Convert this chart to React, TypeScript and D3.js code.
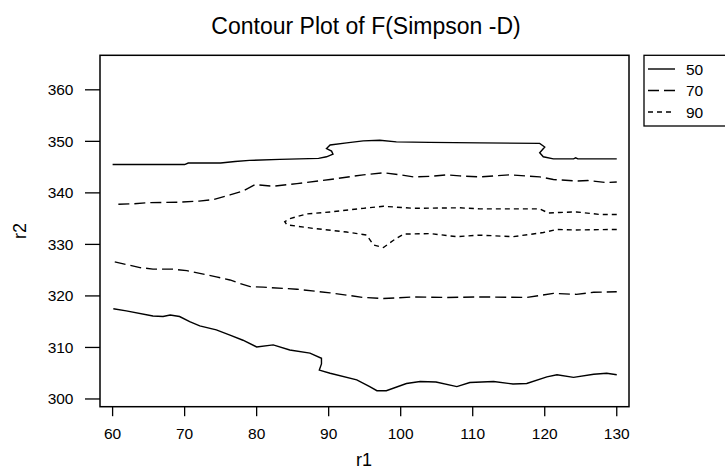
import React from "react";
import * as d3 from "d3";

const xTicks = [60, 70, 80, 90, 100, 110, 120, 130];
const yTicks = [300, 310, 320, 330, 340, 350, 360];
const legendLevels = ["50", "70", "90"];

const c50Upper: [number, number][] = [
  [60, 345.5], [70, 345.5], [70.5, 345.8], [75, 345.8], [77, 346.1], [79, 346.3],
  [83.2, 346.5], [88.6, 346.7], [89.7, 347.0], [90.6, 347.5], [90.4, 348.1], [89.7, 348.6],
  [90.2, 349.3], [92.5, 349.7], [94.8, 350.1], [97.1, 350.2], [99.4, 349.9], [104, 349.8],
  [111, 349.7], [119.3, 349.6], [120.0, 348.9], [119.3, 347.8], [119.8, 347.0], [121.2, 346.6],
  [124, 346.6], [124.3, 346.8], [124.6, 346.6], [130, 346.6],
];

const c70Upper: [number, number][] = [
  [60.8, 337.8], [63, 337.9], [65, 338.1], [69.3, 338.2], [72, 338.4], [74, 338.7],
  [76.3, 339.6], [78, 340.3], [79.8, 341.6], [82.3, 341.3], [85.6, 341.8], [90.2, 342.6],
  [94.8, 343.5], [97.6, 343.9], [100, 343.5], [101.8, 343.1], [104, 343.2], [106.4, 343.5],
  [108.2, 343.3], [111, 343.1], [115.2, 343.5], [119.3, 343.1], [121.2, 342.6], [124.4, 342.3],
  [126, 342.4], [128.6, 342.0], [130, 342.1],
];

const c90: [number, number][] = [
  [130, 335.8], [127.7, 335.8], [124.4, 336.3], [122, 336.2], [120.5, 336.1], [119.3, 336.9],
  [111, 336.9], [108.2, 337.1], [101.8, 337.0], [97.6, 337.4], [94.8, 337.0], [90.2, 336.3],
  [86.9, 335.9], [84.6, 335.0], [83.9, 334.4], [84.2, 333.8], [87.9, 333.1], [92.5, 332.4],
  [95.3, 331.8], [96.2, 329.9], [97.6, 329.4], [99, 330.8], [100.4, 332.0], [104.1, 332.1],
  [107.8, 331.5], [111, 331.8], [115.6, 331.5], [119.8, 332.3], [121.7, 332.9], [124, 332.8],
  [130, 332.9],
];

const c70Lower: [number, number][] = [
  [60.3, 326.6], [63.8, 325.5], [65.6, 325.2], [68.4, 325.2], [70.3, 324.9], [74.4, 323.7],
  [76.3, 323.1], [77.5, 322.5], [79.1, 321.8], [80.9, 321.7], [85.6, 321.3], [90.2, 320.6],
  [94.8, 319.7], [97.6, 319.5], [101.8, 319.8], [106.4, 319.7], [111, 319.8], [117.5, 319.7],
  [121.2, 320.5], [124.4, 320.3], [126.8, 320.7], [130, 320.8],
];

const c50Lower: [number, number][] = [
  [60.1, 317.5], [61.9, 317.1], [65.6, 316.1], [67, 316.0], [68, 316.3], [69.3, 316.0],
  [70.7, 315.0], [72.1, 314.2], [74.4, 313.4], [76.3, 312.4], [78.1, 311.4], [80, 310.1],
  [82.3, 310.5], [84.6, 309.5], [87.4, 308.9], [89, 307.9], [89.0, 306.8], [88.7, 305.6],
  [90.2, 305.0], [93.9, 303.7], [95.7, 302.4], [96.7, 301.6], [98, 301.6], [100.8, 303.0],
  [102.7, 303.4], [104.9, 303.3], [107.8, 302.4], [109.6, 303.2], [112.9, 303.4], [115.6, 302.9],
  [117.5, 303.0], [120.3, 304.3], [121.7, 304.7], [124, 304.2], [126.8, 304.8], [128.6, 305.0],
  [130, 304.7],
];

const FONT = "Liberation Sans, Arial, Helvetica, sans-serif";
const dashFor: Record<string, string | undefined> = { "50": undefined, "70": "11,5", "90": "5,4" };

export default function App() {
  const left = 100, right = 629, top = 55.3, bottom = 406.7;
  const x = d3.scaleLinear().domain([58.25, 131.7]).range([left, right]);
  const y = d3.scaleLinear().domain([298.5, 366.7]).range([bottom, top]);
  const line = d3.line<[number, number]>().x((d) => x(d[0])).y((d) => y(d[1]));

  const contours: { data: [number, number][]; level: string }[] = [
    { data: c50Upper, level: "50" },
    { data: c70Upper, level: "70" },
    { data: c90, level: "90" },
    { data: c70Lower, level: "70" },
    { data: c50Lower, level: "50" },
  ];

  return (
    <svg width={725} height={471} style={{ position: "absolute", left: 0, top: 0, background: "#fff" }}>
      <rect x={0} y={0} width={725} height={471} fill="#fff" />
      <text x={366} y={34} textAnchor="middle" fontFamily={FONT} fontSize={23} fill="#000">
        Contour Plot of F(Simpson -D)
      </text>
      {contours.map((c, i) => (
        <path key={i} d={line(c.data) || ""} fill="none" stroke="#000" strokeWidth={1.4}
          strokeDasharray={dashFor[c.level]} />
      ))}
      <rect x={left} y={top} width={right - left} height={bottom - top} fill="none" stroke="#000" strokeWidth={1.5} />
      {xTicks.map((t) => (
        <g key={t}>
          <line x1={x(t)} x2={x(t)} y1={bottom} y2={bottom + 9.5} stroke="#000" strokeWidth={1.3} />
          <text x={x(t)} y={439} textAnchor="middle" fontFamily={FONT} fontSize={15.5} fill="#000">{t}</text>
        </g>
      ))}
      {yTicks.map((t) => (
        <g key={t}>
          <line x1={left - 15} x2={left} y1={y(t)} y2={y(t)} stroke="#000" strokeWidth={1.3} />
          <text x={73.5} y={y(t) + 5.5} textAnchor="end" fontFamily={FONT} fontSize={15.5} fill="#000">{t}</text>
        </g>
      ))}
      <text x={364} y={466} textAnchor="middle" fontFamily={FONT} fontSize={18} fill="#000">r1</text>
      <text transform={`translate(26,${(top + bottom) / 2}) rotate(-90)`} textAnchor="middle" fontFamily={FONT} fontSize={18} fill="#000">r2</text>
      <rect x={644} y={55.3} width={90} height={70.7} fill="#fff" stroke="#000" strokeWidth={1.3} />
      {legendLevels.map((lv, i) => {
        const ly = 69 + i * 21.5;
        return (
          <g key={lv}>
            <line x1={648} x2={675} y1={ly} y2={ly} stroke="#000" strokeWidth={1.4} strokeDasharray={dashFor[lv]} />
            <text x={686} y={ly + 5.5} fontFamily={FONT} fontSize={15.5} fill="#000">{lv}</text>
          </g>
        );
      })}
    </svg>
  );
}
